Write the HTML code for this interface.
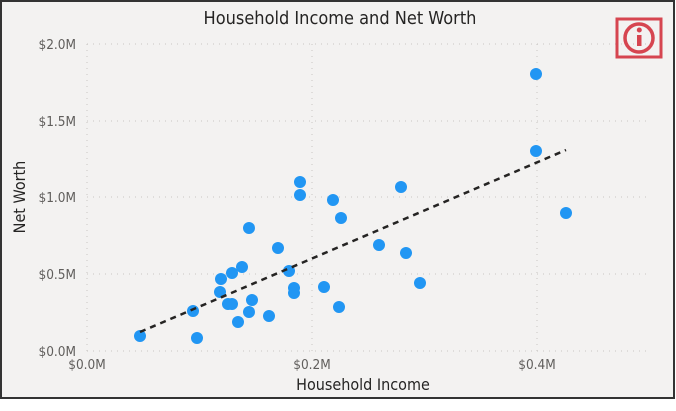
<!DOCTYPE html>
<html><head><meta charset="utf-8"><style>
html,body{margin:0;padding:0;background:#fff;}
</style></head><body>
<svg width="676" height="406" xmlns="http://www.w3.org/2000/svg" font-family="'DejaVu Sans Condensed','Liberation Sans',sans-serif">
<rect x="1" y="1" width="673" height="397" fill="#f3f2f1" stroke="#333" stroke-width="2"/>
<text x="340" y="24" text-anchor="middle" font-size="18" fill="#252423">Household Income and Net Worth</text>
<g stroke="#c8c6c4" stroke-width="1" stroke-dasharray="1,5">
<line x1="87" y1="44" x2="647" y2="44"/>
<line x1="87" y1="121" x2="647" y2="121"/>
<line x1="87" y1="197" x2="647" y2="197"/>
<line x1="87" y1="274" x2="647" y2="274"/>
<line x1="87" y1="351" x2="647" y2="351"/>
<line x1="87" y1="44" x2="87" y2="351"/>
<line x1="312" y1="44" x2="312" y2="351"/>
<line x1="537" y1="44" x2="537" y2="351"/>
</g>
<g font-size="13.5" fill="#605e5c" text-anchor="end">
<text x="76" y="49">$2.0M</text>
<text x="76" y="126">$1.5M</text>
<text x="76" y="202">$1.0M</text>
<text x="76" y="279">$0.5M</text>
<text x="76" y="356">$0.0M</text>
</g>
<g font-size="13.5" fill="#605e5c" text-anchor="middle">
<text x="87" y="369">$0.0M</text>
<text x="312" y="369">$0.2M</text>
<text x="537" y="369">$0.4M</text>
</g>
<text x="363" y="390" text-anchor="middle" font-size="16" fill="#252423">Household Income</text>
<text transform="translate(25,197) rotate(-90)" text-anchor="middle" font-size="16" fill="#252423">Net Worth</text>
<g fill="#2196f3">
<circle cx="140" cy="336" r="6"/><circle cx="193" cy="311" r="6"/><circle cx="197" cy="338" r="6"/>
<circle cx="221" cy="279" r="6"/><circle cx="220" cy="292" r="6"/><circle cx="232" cy="273" r="6"/>
<circle cx="242" cy="267" r="6"/><circle cx="249" cy="228" r="6"/><circle cx="228" cy="304" r="6"/>
<circle cx="232" cy="304" r="6"/><circle cx="252" cy="300" r="6"/><circle cx="249" cy="312" r="6"/>
<circle cx="238" cy="322" r="6"/><circle cx="269" cy="316" r="6"/><circle cx="278" cy="248" r="6"/>
<circle cx="289" cy="271" r="6"/><circle cx="294" cy="288" r="6"/><circle cx="294" cy="293" r="6"/>
<circle cx="300" cy="182" r="6"/><circle cx="300" cy="195" r="6"/><circle cx="333" cy="200" r="6"/>
<circle cx="341" cy="218" r="6"/><circle cx="324" cy="287" r="6"/><circle cx="339" cy="307" r="6"/>
<circle cx="379" cy="245" r="6"/><circle cx="401" cy="187" r="6"/><circle cx="406" cy="253" r="6"/>
<circle cx="420" cy="283" r="6"/><circle cx="536" cy="74" r="6"/><circle cx="536" cy="151" r="6"/>
<circle cx="566" cy="213" r="6"/>
</g>
<line x1="140" y1="332" x2="566" y2="150" stroke="#252423" stroke-width="2.5" stroke-dasharray="6,5"/>
<rect x="617" y="19" width="44" height="38" fill="none" stroke="#d64550" stroke-width="3"/>
<circle cx="639" cy="38" r="14" fill="none" stroke="#d64550" stroke-width="3.5"/>
<rect x="637" y="35" width="4.5" height="11" fill="#d64550"/>
<circle cx="639.3" cy="30" r="2.5" fill="#d64550"/>
</svg>
</body></html>
